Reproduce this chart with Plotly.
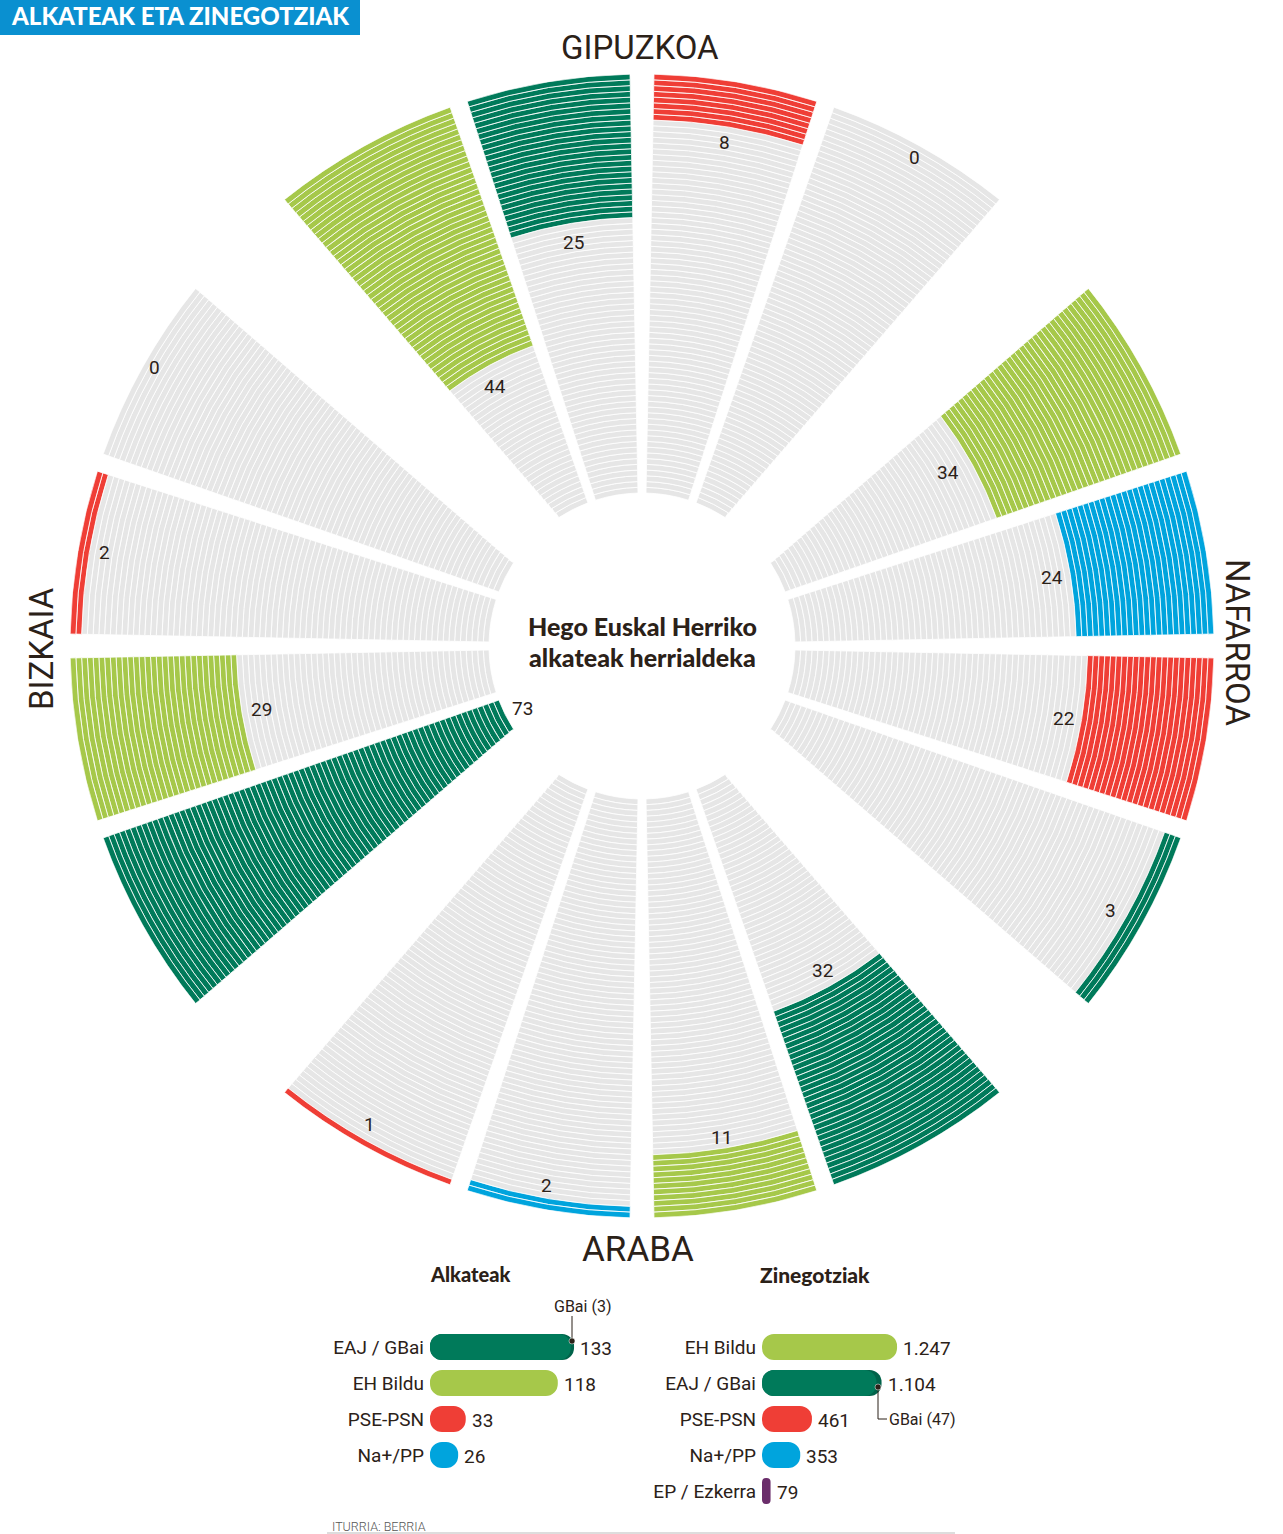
import math
import plotly.graph_objects as go

WIDTH = 1283
HEIGHT = 1534
TEXT_COLOR = "#2b2118"
FONT = "Roboto"
BOLD_FONT = "Lato"
ROWS = 73
INNER_RADIUS = 153
OUTER_RADIUS = 572

# Clockwise from the top, four sectors for each herrialde
sector_values = [8, 0, 34, 24, 22, 3, 32, 11, 2, 1, 73, 29, 2, 0, 44, 25]
sector_colors = ["#ef3e36", "#00a4dd", "#a6c84a", "#00a4dd", "#ef3e36", "#007a5a", "#007a5a", "#a6c84a",
                 "#00a4dd", "#ef3e36", "#007a5a", "#a6c84a", "#ef3e36", "#00a4dd", "#a6c84a", "#007a5a"]
grey_color = "#e6e6e6"

mayor_names = ["EAJ / GBai", "EH Bildu", "PSE-PSN", "Na+/PP"]
mayor_values = [133, 118, 33, 26]
mayor_labels = ["133", "118", "33", "26"]
mayor_colors = ["#00634a", "#a6c84a", "#ef3e36", "#00a4dd"]
mayor_gbai = 3

council_names = ["EH Bildu", "EAJ / GBai", "PSE-PSN", "Na+/PP", "EP / Ezkerra"]
council_values = [1247, 1104, 461, 353, 79]
council_labels = ["1.247", "1.104", "461", "353", "79"]
council_colors = ["#a6c84a", "#00634a", "#ef3e36", "#00a4dd", "#6b2d6b"]
council_gbai = 47

def px(x: float) -> float:
    return x / WIDTH

def py(y: float) -> float:
    return 1 - y / HEIGHT

def edge_angle(inner: float, outer: float, radius: float) -> float:
    """Sector sides are straight lines: angle where the side crosses the circle of this radius."""
    x0, y0 = INNER_RADIUS * math.sin(math.radians(inner)), INNER_RADIUS * math.cos(math.radians(inner))
    x1, y1 = OUTER_RADIUS * math.sin(math.radians(outer)), OUTER_RADIUS * math.cos(math.radians(outer))
    dx, dy = x1 - x0, y1 - y0
    a = dx * dx + dy * dy
    b = 2 * (x0 * dx + y0 * dy)
    c = x0 * x0 + y0 * y0 - radius * radius
    t = (-b + math.sqrt(b * b - 4 * a * c)) / (2 * a)
    return math.degrees(math.atan2(x0 + t * dx, y0 + t * dy))

def create_wheel_trace() -> go.Barpolar:
    """One thin ring piece per row and sector."""
    inner_edges = [(1.5, 17.7), (20.7, 32.8), (57.2, 69.3), (72.3, 88.5)]
    outer_edges = [(1.2, 17.8), (19.6, 38.7), (51.3, 70.4), (72.2, 88.8)]
    row_height = (OUTER_RADIUS - INNER_RADIUS) / ROWS
    thetas, widths, bases, colors = [], [], [], []
    for i, value in enumerate(sector_values):
        turn = 90 * (i // 4)
        inner, outer = inner_edges[i % 4], outer_edges[i % 4]
        for row in range(ROWS):
            radius = INNER_RADIUS + (row + 0.5) * row_height
            start = edge_angle(inner[0], outer[0], radius)
            end = edge_angle(inner[1], outer[1], radius)
            thetas.append(turn + (start + end) / 2)
            widths.append(end - start)
            bases.append(row)
            colors.append(sector_colors[i] if row >= ROWS - value else grey_color)
    return go.Barpolar(r=[1] * len(bases), base=bases, theta=thetas, width=widths,
                       marker=dict(color=colors, line=dict(color="white", width=0.8)),
                       hoverinfo="skip", showlegend=False)

def add_text(fig: go.Figure, x: float, y: float, text: str, size: int, color: str = TEXT_COLOR, family: str = FONT,
             weight: int = 400, xanchor: str = "center", textangle: int = 0) -> None:
    fig.add_annotation(x=px(x), y=py(y), xref="paper", yref="paper", text=text, showarrow=False, xanchor=xanchor,
                       yanchor="middle", textangle=textangle, font=dict(family=family, size=size, color=color, weight=weight))

def add_round_bar(fig: go.Figure, names: list, values: list, colors: list, xaxis: str, yaxis: str) -> None:
    """An explicit base makes Plotly round both ends of the bar."""
    fig.add_trace(go.Bar(x=values, y=names, base=[0] * len(values), orientation="h", marker_color=colors,
                         width=0.72, xaxis=xaxis, yaxis=yaxis, hoverinfo="skip", showlegend=False))

def add_panel(fig: go.Figure, names: list, values: list, labels: list, colors: list, gbai: int, axis: str) -> None:
    """Rounded bars under the wheel, the GBai share shows as the darker end."""
    xaxis, yaxis = "x" + axis, "y" + axis
    add_round_bar(fig, names, values, colors, xaxis, yaxis)
    share = names.index("EAJ / GBai")
    add_round_bar(fig, [names[share]], [values[share] - gbai], ["#007a5a"], xaxis, yaxis)
    for i, label in enumerate(labels):
        fig.add_annotation(x=values[i], y=i, xref=xaxis, yref=yaxis, text=label, showarrow=False, xanchor="left",
                           xshift=4, yshift=-1, font=dict(family=FONT, size=19, color=TEXT_COLOR, weight=400))

def create_figure() -> go.Figure:
    """Creates the whole page."""
    fig = go.Figure()
    fig.add_trace(create_wheel_trace())
    add_panel(fig, mayor_names, mayor_values, mayor_labels, mayor_colors, mayor_gbai, "")
    add_panel(fig, council_names, council_values, council_labels, council_colors, council_gbai, "2")

    # Sector numbers
    number_spots = [(724, 143), (915, 157), (948, 472), (1052, 577), (1063, 718), (1110, 910), (822, 970), (721, 1137),
                    (546, 1185), (369, 1124), (522, 708), (261, 709), (104, 552), (154, 367), (495, 386), (573, 242)]
    for value, (x, y) in zip(sector_values, number_spots):
        add_text(fig, x, y, str(value), 19)

    # Titles
    add_text(fig, 640, 47, "GIPUZKOA", 33)
    add_text(fig, 638, 1249, "ARABA", 35)
    add_text(fig, 1238, 642, "NAFARROA", 33, textangle=90)
    add_text(fig, 41, 649, "BIZKAIA", 33, textangle=-90)
    add_text(fig, 642, 626, "Hego Euskal Herriko", 25, family=BOLD_FONT, weight=900)
    add_text(fig, 642, 657, "alkateak herrialdeka", 25, family=BOLD_FONT, weight=900)
    add_text(fig, 470, 1274, "Alkateak", 20, family=BOLD_FONT, weight=900)
    add_text(fig, 815, 1274, "Zinegotziak", 21, family=BOLD_FONT, weight=900)
    add_text(fig, 582, 1306, "GBai (3)", 16)
    add_text(fig, 922, 1419, "GBai (47)", 16)
    add_text(fig, 330, 1526, "ITURRIA: BERRIA", 12.5, xanchor="left", color="#555555", weight=300)

    # Header
    fig.add_shape(type="rect", xref="paper", yref="paper", x0=0, x1=px(360), y0=py(35), y1=1,
                  fillcolor="#0a90d0", line_width=0)
    add_text(fig, 180, 16, "ALKATEAK ETA ZINEGOTZIAK", 24, color="white", family=BOLD_FONT, weight=900)

    # GBai pointers
    for x0, y0, x1, y1 in [(572, 1316, 572, 1341), (878, 1387, 878, 1419), (878, 1419, 887, 1419)]:
        fig.add_shape(type="line", xref="paper", yref="paper", x0=px(x0), y0=py(y0), x1=px(x1), y1=py(y1),
                      line=dict(color=TEXT_COLOR, width=1))
    for x, y in [(572, 1341), (878, 1387)]:
        fig.add_shape(type="circle", xref="paper", yref="paper", x0=px(x - 3), y0=py(y + 3), x1=px(x + 3), y1=py(y - 3),
                      fillcolor=TEXT_COLOR, line=dict(color="white", width=0.5))
    fig.add_shape(type="line", xref="paper", yref="paper", x0=px(327), y0=py(1533), x1=px(955), y1=py(1533),
                  line=dict(color="#bbbbbb", width=1))

    bar_domain = [py(1509), py(1329)]
    tick_font = dict(family=FONT, size=19, color=TEXT_COLOR, weight=400)
    fig.update_layout(
        width=WIDTH, height=HEIGHT, margin=dict(l=0, r=0, t=0, b=0), template="none",
        paper_bgcolor="white", plot_bgcolor="rgba(0,0,0,0)", barmode="overlay", barcornerradius=13,
        polar=dict(domain=dict(x=[px(70), px(1214)], y=[py(1218), py(74)]), bgcolor="rgba(0,0,0,0)",
                   radialaxis=dict(visible=False, range=[-ROWS * INNER_RADIUS / (OUTER_RADIUS - INNER_RADIUS), ROWS]),
                   angularaxis=dict(visible=False, rotation=90, direction="clockwise")),
        xaxis=dict(domain=[px(430), px(630)], range=[0, 200 / 1.083], visible=False),
        yaxis=dict(domain=bar_domain, range=[4.5, -0.5], type="category", categoryarray=mayor_names, showgrid=False,
                   zeroline=False, showline=False, ticks="", ticklabelstandoff=5, tickfont=tick_font, anchor="x"),
        xaxis2=dict(domain=[px(762), px(962)], range=[0, 200 / 0.1083], visible=False, anchor="y2"),
        yaxis2=dict(domain=bar_domain, range=[4.5, -0.5], type="category", categoryarray=council_names, showgrid=False,
                    zeroline=False, showline=False, ticks="", ticklabelstandoff=5, tickfont=tick_font, anchor="x2"),
    )
    return fig

fig = create_figure()
# page margin off, the picture runs to the window edge
fig.write_html("out.html", config={"displayModeBar": False}, post_script="document.body.style.margin = '0';")
